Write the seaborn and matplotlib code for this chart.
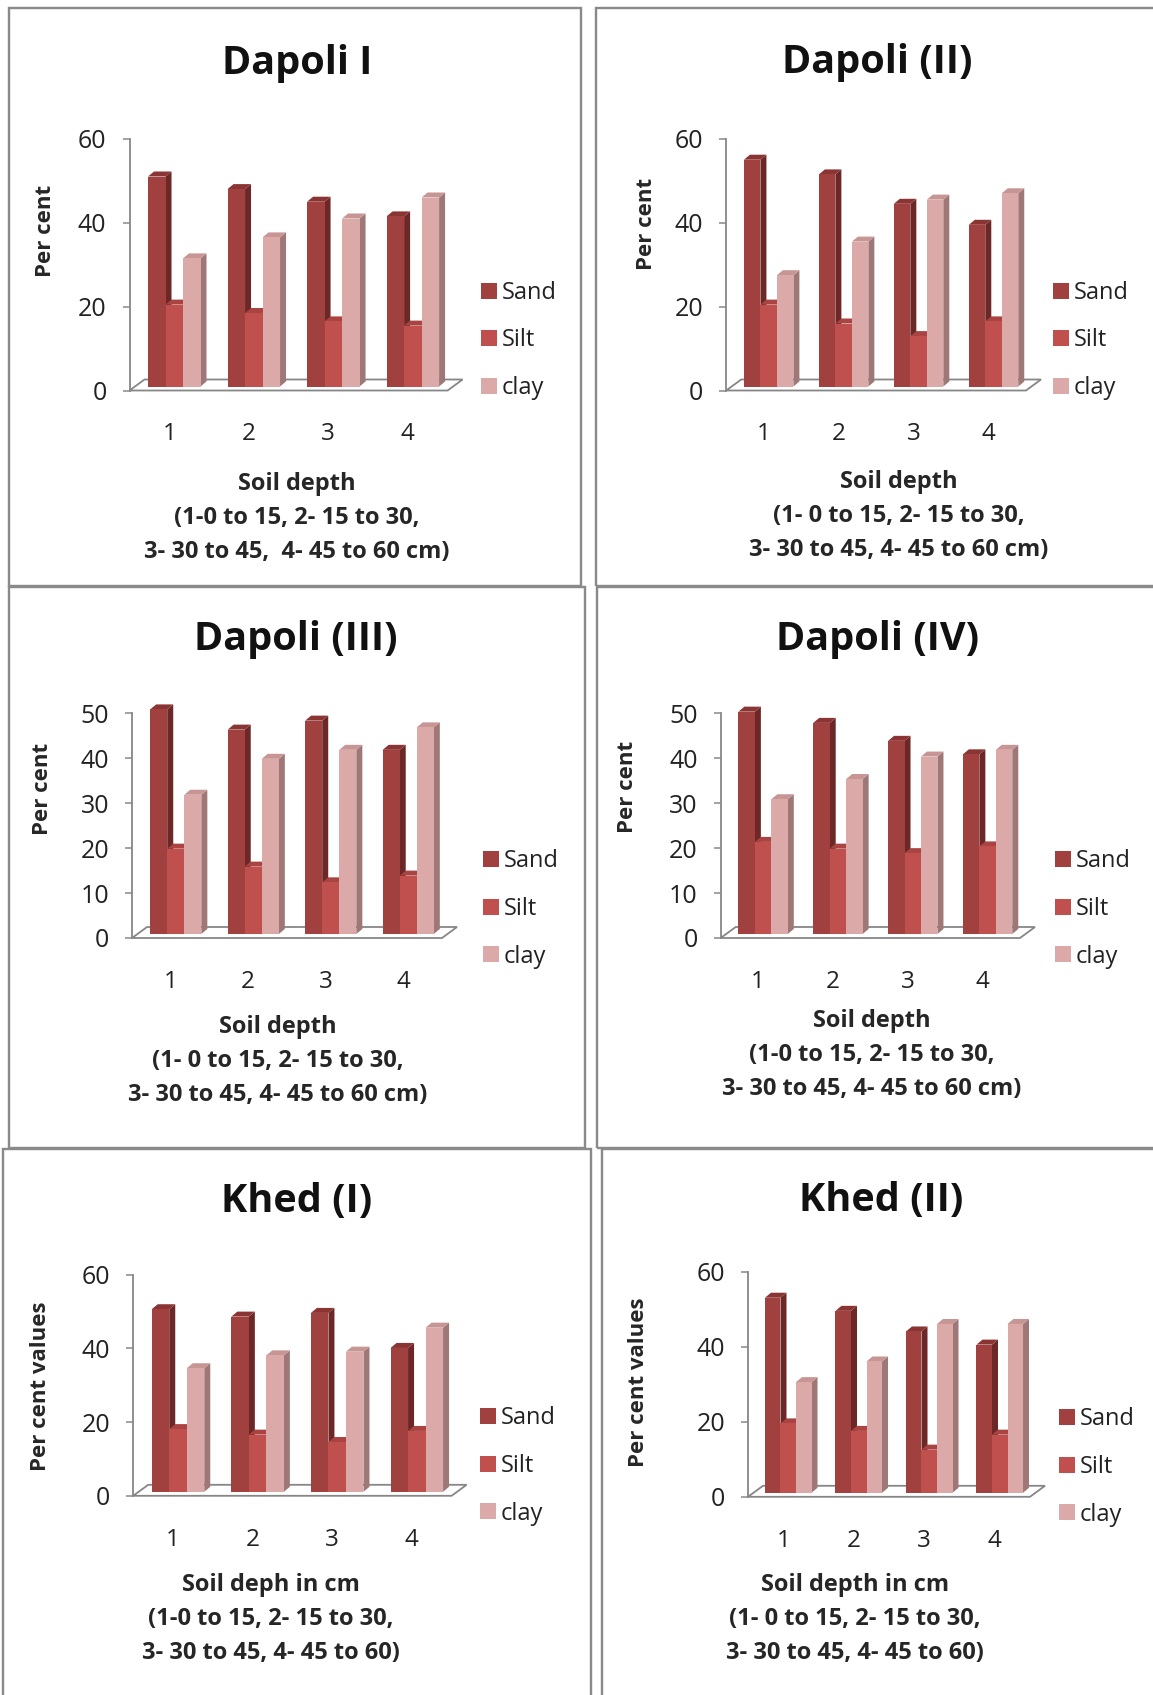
import numpy as np
import pandas as pd
import matplotlib
matplotlib.use("Agg")
import matplotlib.pyplot as plt
import seaborn as sns
from matplotlib.patches import Polygon, Rectangle
from matplotlib.transforms import ScaledTranslation

# ---------------------------------------------------------------- data
depth = ["1", "2", "3", "4"]
components = ["Sand", "Silt", "clay"]

dapoli1_sand = [50, 47, 44, 40.5]
dapoli1_silt = [19.5, 17.5, 15.5, 14.5]
dapoli1_clay = [30.5, 35.5, 40, 45]

dapoli2_sand = [54, 50.5, 43.5, 38.5]
dapoli2_silt = [19.5, 15, 12, 15.5]
dapoli2_clay = [26.5, 34.5, 44.5, 46]

dapoli3_sand = [50, 45.5, 47.5, 41]
dapoli3_silt = [19, 15, 11.5, 13]
dapoli3_clay = [31, 39, 41, 46]

dapoli4_sand = [49.5, 47, 43, 40]
dapoli4_silt = [20.5, 19, 18, 19.5]
dapoli4_clay = [30, 34.5, 39.5, 41]

khed1_sand = [49.5, 47.5, 48.5, 39]
khed1_silt = [17, 15.5, 13.5, 16.5]
khed1_clay = [33.5, 37, 38, 44.5]

khed2_sand = [52, 48.5, 43, 39.5]
khed2_silt = [18.5, 16.5, 11.5, 15.5]
khed2_clay = [29.5, 35, 45, 45]

titles = ["Dapoli I", "Dapoli (II)", "Dapoli (III)", "Dapoli (IV)", "Khed (I)", "Khed (II)"]
ylabels = ["Per cent", "Per cent", "Per cent", "Per cent", "Per cent values", "Per cent values"]
xlabels = [
    "Soil depth\n(1-0 to 15, 2- 15 to 30,\n3- 30 to 45,  4- 45 to 60 cm)",
    "Soil depth\n(1- 0 to 15, 2- 15 to 30,\n3- 30 to 45, 4- 45 to 60 cm)",
    "Soil depth\n(1- 0 to 15, 2- 15 to 30,\n3- 30 to 45, 4- 45 to 60 cm)",
    "Soil depth\n(1-0 to 15, 2- 15 to 30,\n3- 30 to 45, 4- 45 to 60 cm)",
    "Soil deph in cm\n(1-0 to 15, 2- 15 to 30,\n3- 30 to 45, 4- 45 to 60)",
    "Soil depth in cm\n(1- 0 to 15, 2- 15 to 30,\n3- 30 to 45, 4- 45 to 60)",
]
y_max = [60, 60, 50, 50, 60, 60]
y_step = [20, 20, 10, 10, 20, 20]

series = [
    (dapoli1_sand, dapoli1_silt, dapoli1_clay),
    (dapoli2_sand, dapoli2_silt, dapoli2_clay),
    (dapoli3_sand, dapoli3_silt, dapoli3_clay),
    (dapoli4_sand, dapoli4_silt, dapoli4_clay),
    (khed1_sand, khed1_silt, khed1_clay),
    (khed2_sand, khed2_silt, khed2_clay),
]

# ---------------------------------------------------------------- styling
front_colors = ["#A0403F", "#C0504D", "#DBA9A8"]
side_colors = ["#6C2727", "#8E3836", "#9E7877"]
top_colors = ["#8A3433", "#A94442", "#C79594"]
GRAY = "#868686"

# panel geometry in pixels
# frame (x0, y0, x1, y1), axes (left, y_top, right, y_zero), title (cx, baseline),
# ylabel (cx, cy), xlabel (cx, cy), legend (x, cy)
layout = [
    dict(frame=(8.6, 7.6, 581, 586), ax=(129.5, 138.5, 447.6, 390.5), title=(297, 74),
         ylab=(46, 231), xlab=(297, 518), leg=(481, 340.5)),
    dict(frame=(596, 7.6, 1160, 586), ax=(726.2, 138.5, 1026, 390.5), title=(877, 73),
         ylab=(646, 224), xlab=(899, 516), leg=(1053, 340.5)),
    dict(frame=(8.6, 587, 585, 1148), ax=(132, 713.4, 442, 938), title=(296, 650),
         ylab=(42.5, 789), xlab=(278, 1061), leg=(483, 909)),
    dict(frame=(597, 587, 1160, 1148), ax=(720.7, 713.4, 1020, 938), title=(878, 650),
         ylab=(627.5, 787), xlab=(872, 1055), leg=(1055, 909)),
    dict(frame=(3, 1149, 591, 1710), ax=(133.2, 1274.5, 451.6, 1495.8), title=(297, 1212),
         ylab=(40, 1386), xlab=(271, 1619), leg=(480, 1466)),
    dict(frame=(602, 1149, 1160, 1710), ax=(748, 1271.7, 1030, 1496.8), title=(881, 1211),
         ylab=(638.5, 1382.5), xlab=(855, 1619), leg=(1058.6, 1467)),
]

W, H, DPI = 1153, 1695, 100

sns.set_style("white")
plt.rcParams["font.family"] = ["Open Sans", "DejaVu Sans"]
plt.rcParams["text.color"] = "#1a1a1a"

fig = plt.figure(figsize=(W / DPI, H / DPI), dpi=DPI)
fig.patch.set_facecolor("white")


def fx(px):
    return px / W


def fy(py):
    return 1 - py / H


def pt(px):
    return px * 72 / DPI


for i in range(6):
    L = layout[i]
    sand, silt, clay = series[i]
    df = pd.DataFrame({
        "depth": depth * 3,
        "component": [c for c in components for _ in depth],
        "percent": list(sand) + list(silt) + list(clay),
    })

    # panel frame
    x0, y0, x1, y1 = L["frame"]
    fig.add_artist(Rectangle((fx(x0), fy(y1)), fx(x1) - fx(x0), fy(y0) - fy(y1),
                             transform=fig.transFigure, fill=False,
                             edgecolor="#8a8a8a", linewidth=pt(2.4), zorder=0))

    left, ytop, right, yzero = L["ax"]
    ax = fig.add_axes([fx(left), fy(yzero), fx(right) - fx(left), fy(ytop) - fy(yzero)])
    ax.patch.set_alpha(0)

    sns.barplot(data=df, x="depth", y="percent", hue="component", hue_order=components,
                palette=front_colors, saturation=1, width=0.66, linewidth=0, ax=ax)
    ax.set_xlim(-0.5, 3.5)
    ax.set_ylim(0, y_max[i])
    ax.set_yticks(np.arange(0, y_max[i] + 1, y_step[i]))

    # pixel -> data conversion for the depth of the 3-D faces
    px_x = (right - left) / 4.0
    px_y = (yzero - ytop) / y_max[i]
    ddx, ddy = 6 / px_x, 5 / px_y
    shift = ScaledTranslation(5 / DPI, 4 / DPI, fig.dpi_scale_trans)
    tr = ax.transData + shift

    bars = sorted([p for p in ax.patches if isinstance(p, Rectangle)], key=lambda p: p.get_x())
    for k, p in enumerate(bars):
        bx, bw, bh = p.get_x(), p.get_width(), p.get_height()
        ci = int(np.argmin([np.abs(np.array(matplotlib.colors.to_rgb(c)) -
                                   np.array(p.get_facecolor()[:3])).sum() for c in front_colors]))
        side = Polygon([(bx + bw, 0), (bx + bw + ddx, ddy), (bx + bw + ddx, bh + ddy), (bx + bw, bh)],
                       closed=True, facecolor=side_colors[ci], edgecolor="none",
                       transform=tr, clip_on=False, zorder=3 + 2 * k)
        top = Polygon([(bx, bh), (bx + bw, bh), (bx + bw + ddx, bh + ddy), (bx + ddx, bh + ddy)],
                      closed=True, facecolor=top_colors[ci], edgecolor="none",
                      transform=tr, clip_on=False, zorder=3 + 2 * k)
        ax.add_patch(side)
        ax.add_patch(top)
        p.set_transform(tr)
        p.set_clip_on(False)
        p.set_zorder(4 + 2 * k)

    # floor of the 3-D plot
    fdx, fdy = 15 / px_x, 11 / px_y
    floor = Polygon([(-0.5, 0), (3.5, 0), (3.5 + fdx, fdy), (-0.5 + fdx, fdy)], closed=True,
                    facecolor="white", edgecolor=GRAY, linewidth=pt(1.8),
                    transform=ax.transData, clip_on=False, zorder=1)
    ax.add_patch(floor)

    for s in ["top", "right", "bottom"]:
        ax.spines[s].set_visible(False)
    ax.spines["left"].set_color(GRAY)
    ax.spines["left"].set_linewidth(pt(1.8))
    ax.tick_params(axis="y", left=True, direction="out", length=pt(7), width=pt(1.5),
                   color=GRAY, pad=pt(16), labelsize=18, labelcolor="#222222")
    ax.tick_params(axis="x", bottom=False, length=0, pad=pt(32), labelsize=17.5,
                   labelcolor="#222222")

    # labels
    ax.set_ylabel(ylabels[i], fontsize=16, fontweight="bold")
    ax.yaxis.label.set_va("center")
    ax.yaxis.set_label_coords((L["ylab"][0] - left) / (right - left),
                              (yzero - L["ylab"][1]) / (yzero - ytop))
    ax.set_xlabel(xlabels[i], fontsize=17, fontweight="bold", linespacing=1.55)
    ax.xaxis.label.set_va("center")
    ax.xaxis.set_label_coords((L["xlab"][0] - left) / (right - left),
                              (yzero - L["xlab"][1]) / (yzero - ytop))

    fig.text(fx(L["title"][0]), fy(L["title"][1]), titles[i], ha="center", va="baseline",
             fontsize=28.5, fontweight="bold", color="#111111")

    sns.move_legend(ax, loc="center left", bbox_to_anchor=(fx(L["leg"][0]), fy(L["leg"][1])),
                    bbox_transform=fig.transFigure, frameon=False, title=None, fontsize=17,
                    handlelength=0.68, handleheight=0.68, handletextpad=0.2,
                    labelspacing=1.0, borderpad=0, borderaxespad=0)
    for t in ax.get_legend().get_texts():
        t.set_color("#222222")

fig.savefig("out.png", dpi=DPI, facecolor="white")
